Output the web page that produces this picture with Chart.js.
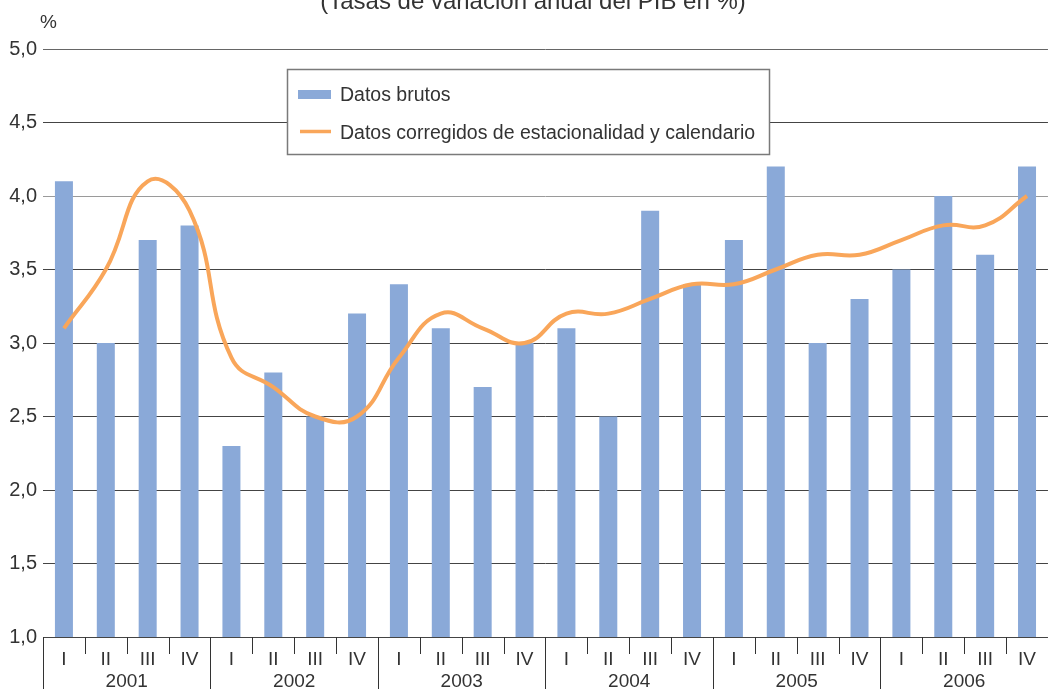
<!DOCTYPE html>
<html lang="es">
<head>
<meta charset="utf-8">
<title>PIB</title>
<script src="https://cdn.jsdelivr.net/npm/chart.js@4.4.1/dist/chart.umd.min.js"></script>
<style>
  html, body { margin: 0; padding: 0; background: #fff; }
  canvas { display: block; }
</style>
</head>
<body>
<canvas id="pibChart" width="1049" height="689"></canvas>
<script>
// Tasas de variación anual del PIB (%), datos trimestrales
const anios = ['2001', '2002', '2003', '2004', '2005', '2006'];
const trimestres = ['I', 'II', 'III', 'IV'];
const datosBrutos = [4.1, 3.0, 3.7, 3.8, 2.3, 2.8, 2.5, 3.2, 3.4, 3.1, 2.7, 3.0,
                     3.1, 2.5, 3.9, 3.4, 3.7, 4.2, 3.0, 3.3, 3.5, 4.0, 3.6, 4.2];
const datosCorregidos = [3.1, 3.5, 4.1, 3.9, 2.9, 2.7, 2.5, 2.5, 2.9, 3.2, 3.1, 3.0,
                         3.2, 3.2, 3.3, 3.4, 3.4, 3.5, 3.6, 3.6, 3.7, 3.8, 3.8, 4.0];

const etiquetas = anios.flatMap(() => trimestres);
const fuente = '"Liberation Sans", Arial, Helvetica, sans-serif';
const colorBarras = '#8aa9d8';
const colorLinea = '#f9a65a';

// titulo, unidad, separadores del eje X y leyenda con marco
const decoracion = {
  id: 'decoracion',
  afterDraw(chart) {
    const { ctx, chartArea, scales: { x } } = chart;
    ctx.save();
    ctx.fillStyle = '#333';
    ctx.font = '24px ' + fuente;
    ctx.textAlign = 'center';
    ctx.textBaseline = 'alphabetic';
    ctx.fillText('(Tasas de variación anual del PIB en %)', 533, 9);

    ctx.font = '19px ' + fuente;
    ctx.textAlign = 'left';
    ctx.fillText('%', 40, 28);

    const paso = (x.right - x.left) / etiquetas.length;
    ctx.strokeStyle = '#333';
    ctx.lineWidth = 1;
    for (let i = 0; i < etiquetas.length; i++) {
      const px = Math.round(x.getPixelForValue(i) - paso / 2) + 0.5;
      const fin = i % 4 === 0 ? chart.height : chartArea.bottom + 17;
      ctx.beginPath();
      ctx.moveTo(px, chartArea.bottom);
      ctx.lineTo(px, fin);
      ctx.stroke();
    }

    // leyenda
    ctx.fillStyle = '#fff';
    ctx.fillRect(287, 69, 483, 86);
    ctx.strokeStyle = '#7a7a7a';
    ctx.lineWidth = 1.5;
    ctx.strokeRect(287.5, 69.5, 482, 85);

    ctx.fillStyle = colorBarras;
    ctx.fillRect(298, 90, 33, 9);
    ctx.strokeStyle = colorLinea;
    ctx.lineWidth = 3.5;
    ctx.beginPath();
    ctx.moveTo(300, 131.5);
    ctx.lineTo(331, 131.5);
    ctx.stroke();

    ctx.fillStyle = '#333';
    ctx.font = '19.5px ' + fuente;
    ctx.fillText(chart.data.datasets[1].label, 340, 101);
    ctx.fillText(chart.data.datasets[0].label, 340, 138.5);
    ctx.restore();
  }
};

new Chart(document.getElementById('pibChart'), {
  type: 'bar',
  data: {
    labels: etiquetas,
    datasets: [{
      type: 'line',
      label: 'Datos corregidos de estacionalidad y calendario',
      data: datosCorregidos,
      xAxisID: 'x',
      borderColor: colorLinea,
      borderWidth: 4,
      pointRadius: 0,
      tension: 0.45,
      order: 0
    }, {
      label: 'Datos brutos',
      data: datosBrutos,
      xAxisID: 'x',
      backgroundColor: colorBarras,
      barPercentage: 0.43,
      categoryPercentage: 1,
      order: 1
    }]
  },
  options: {
    responsive: false,
    animation: false,
    layout: { padding: { top: 49, left: 0, right: 0, bottom: 0 } },
    plugins: { legend: { display: false }, tooltip: { enabled: false } },
    scales: {
      y: {
        min: 1,
        max: 5,
        afterFit(s) { s.width = 43; },
        border: { display: false },
        grid: {
          drawTicks: false,
          lineWidth: 1,
          color: c => c.tick.value === 4 ? '#9a9a9a' : (c.tick.value === 5 ? '#666' : '#444')
        },
        ticks: {
          stepSize: 0.5,
          padding: 6,
          color: '#333',
          font: { family: fuente, size: 20 },
          callback: v => v.toFixed(1).replace('.', ',')
        }
      },
      x: {
        offset: true,
        weight: 0,
        afterFit(s) { s.height = 29; },
        border: { display: false },
        grid: { display: false, drawTicks: false },
        ticks: {
          padding: 13,
          color: '#333',
          autoSkip: false,
          maxRotation: 0,
          font: { family: fuente, size: 19, lineHeight: 1 }
        }
      },
      anios: {
        type: 'category',
        labels: anios,
        position: 'bottom',
        offset: true,
        weight: 1,
        afterFit(s) { s.height = 23; },
        border: { display: false },
        grid: { display: false, drawTicks: false },
        ticks: {
          padding: 6,
          color: '#333',
          autoSkip: false,
          maxRotation: 0,
          font: { family: fuente, size: 19, lineHeight: 1 }
        }
      }
    }
  },
  plugins: [decoracion]
});
</script>
</body>
</html>
